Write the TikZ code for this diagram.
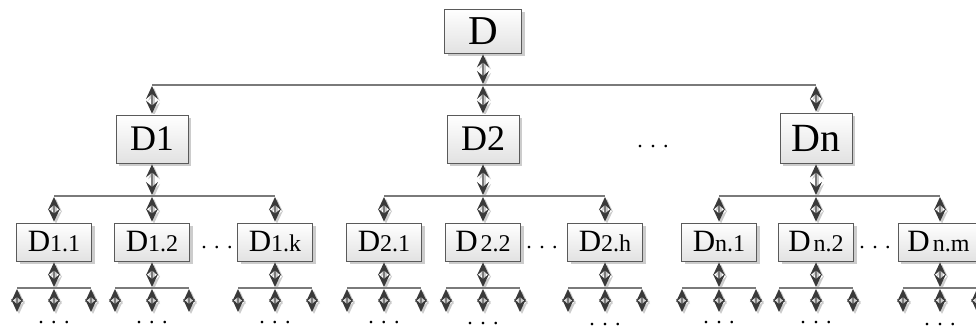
\documentclass[tikz,border=0pt]{standalone}
\usepackage{fontspec}
\setmainfont{Liberation Serif}
\usetikzlibrary{arrows.meta,shadows}

\definecolor{wire}{HTML}{7A7A7A}
\definecolor{tipgray}{HTML}{3A3A3A}
\definecolor{shade}{HTML}{CCCCCC}
\definecolor{frame}{HTML}{5A5A5A}
\definecolor{fillbot}{HTML}{E2E2E2}

\pgfdeclarelayer{back}
\pgfsetlayers{back,main}

\tikzset{
  box/.style={draw=frame, line width=0.8pt, top color=white, bottom color=fillbot,
    inner sep=0pt,
    drop shadow={shadow xshift=3pt, shadow yshift=-3pt, fill=shade, opacity=1}},
  rootbox/.style={box, minimum width=77pt, minimum height=44pt,
    font=\fontsize{41}{41}\selectfont},
  topbox/.style={box, minimum width=72pt, minimum height=48pt,
    font=\fontsize{36}{36}\selectfont},
  subbox/.style={box, minimum width=75pt, minimum height=38pt},
  bar/.style={draw=wire, line width=1.5pt},
  lnk/.style={draw=wire, line width=1.3pt,
    arrows={Stealth[length=13pt,width=12pt,inset=5pt,color=tipgray]-Stealth[length=13pt,width=12pt,inset=5pt,color=tipgray]},
    shorten <=1pt, shorten >=1pt},
  lnkshade/.style={draw=shade, line width=1.3pt,
    arrows={Stealth[length=13pt,width=12pt,inset=5pt,color=shade]-Stealth[length=13pt,width=12pt,inset=5pt,color=shade]},
    shorten <=1pt, shorten >=1pt,
    transform canvas={xshift=2pt,yshift=-2pt}},
  dots/.style={anchor=base, inner sep=0pt, font=\fontsize{22}{22}\selectfont},
}

% double-headed connector with its soft shadow
\newcommand\lnk[2]{%
  \begin{pgfonlayer}{back}\draw[lnkshade] (#1) -- (#2);\end{pgfonlayer}%
  \draw[lnk] (#1) -- (#2);}

% label of a second-row box: large D, smaller index
\newcommand\Dsub[1]{{\fontsize{31}{31}\selectfont D}{\fontsize{24}{24}\selectfont #1}}

\begin{document}
\begin{tikzpicture}[x=1pt,y=-1pt]
\useasboundingbox (0,0) rectangle (976,326);

% root
\node[rootbox] (root) at (483,31) {D};

% first row
\node[topbox] (d1) at (152,139) {D1};
\node[topbox] (d2) at (483,139) {D2};
\node[topbox, minimum height=50pt, font=\fontsize{40}{40}\selectfont] (dn) at (816,138) {Dn};
\node[dots] (dtop) at (653,147.5) {. . .};

\coordinate (j0) at (483,85);
\lnk{root}{j0}
\draw[bar] (j0 -| d1) -- (j0 -| dn);
\foreach \t in {d1,d2,dn} {\lnk{j0 -| \t}{\t}}

% second row
\foreach \n/\x/\lab in {d11/54/{1.1}, d12/152/{1.2}, d1k/275/{1.k},
                        d21/384/{2.1}, d22/483/{\hspace{3pt}2.2}, d2h/605/{2.h},
                        dn1/719/{n.1}, dn2/816/{\hspace{3pt}n.2}} {
  \node[subbox] (\n) at (\x,242) {\Dsub{\lab}};
  \coordinate (\n-c) at (\x,242);
}
\node[subbox, minimum width=78pt] (dnm) at (937,242) {\hspace*{3pt}\Dsub{\hspace{3pt}n.m}};
\coordinate (dnm-c) at (940,242);

\node[dots] (dl1) at (217,248.5) {. . .};
\node[dots] (dl2) at (542,248.5) {. . .};
\node[dots] (dl3) at (875,248.5) {. . .};

\coordinate (j1) at (0,196);
\foreach \p/\a/\b/\c in {d1/d11/d12/d1k, d2/d21/d22/d2h, dn/dn1/dn2/dnm} {
  \lnk{\p}{j1 -| \p}
  \draw[bar] (j1 -| \a-c) -- (j1 -| \c-c);
  \foreach \k in {\a,\b,\c} {\lnk{j1 -| \k-c}{\k.north -| \k-c}}
}

% third row: three branches under every box
\foreach \n/\x/\dy in {d11/54/0, d12/152/0, d1k/275/0,
                       d21/384/0, d22/483/1, d2h/605/2,
                       dn1/719/0, dn2/816/0, dnm/940/2} {
  \coordinate (\n-j) at (\x,288);
  \lnk{\n.south -| \n-c}{\n-j}
  \draw[bar] ([xshift=-37pt]\n-j) -- ([xshift=37pt]\n-j);
  \foreach \i/\dx in {1/-37,2/0,3/37} {
    \coordinate (\n-g\i) at (\x+\dx,313);
    \lnk{\n-j -| \n-g\i}{\n-g\i}
  }
  \node[dots] (\n-more) at (\x,323.5+\dy) {. . .};
}
\end{tikzpicture}
\end{document}
